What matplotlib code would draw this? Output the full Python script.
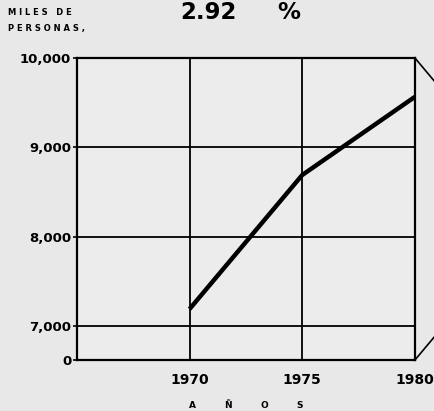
import matplotlib.pyplot as plt

# datos (miles de personas)
anios = [1970, 1975, 1980]
poblacion = [7190, 8690, 9565]
yticks = [7000, 8000, 9000, 10000]
ytick_labels = ['7,000', '8,000', '9,000', '10,000']
xticks = [1970, 1975, 1980]
cero = 6620  # eje cortado: el "0" se dibuja aqui
letras = ['A', 'Ñ', 'O', 'S']

fig = plt.figure(figsize=(4.34, 4.11), dpi=100, facecolor='#e8e8e8')
ax = fig.add_axes([0.177, 0.124, 0.779, 0.735])
ax.set_facecolor('#ececec')

ax.plot(anios, poblacion, color='black', lw=3.2, solid_capstyle='butt')

ax.set_xlim(1965, 1980)
ax.set_ylim(cero, 10000)
for y in yticks[:-1]:
    ax.axhline(y, color='black', lw=1.3)
for x in xticks[:-1]:
    ax.axvline(x, color='black', lw=1.3)
for s in ax.spines.values():
    s.set_linewidth(1.6)

ax.set_yticks([cero] + yticks)
ax.set_yticklabels(['0'] + ytick_labels, fontsize=9.5, fontweight='bold')
ax.set_xticks(xticks)
ax.set_xticklabels([str(x) for x in xticks], fontsize=10, fontweight='bold')
ax.tick_params(axis='y', length=3, width=1.2, pad=1)
ax.tick_params(axis='x', length=0, pad=9)

# lineas diagonales a la derecha
ax.plot([1, 1.06], [1, 0.92], transform=ax.transAxes, color='black', lw=1.2, clip_on=False)
ax.plot([1, 1.06], [0, 0.08], transform=ax.transAxes, color='black', lw=1.2, clip_on=False)

fig.text(0.415, 0.97, '2.92', ha=  'left', va='center', fontsize=16.5, fontweight='bold')
fig.text(0.638, 0.97, '%', ha='left', va='center', fontsize=16.5, fontweight='bold')
fig.text(0.018, 0.97, 'M I L E S   D E', ha='left', va='center', fontsize=6, fontweight='bold')
fig.text(0.018, 0.93, 'P E R S O N A S ,', ha='left', va='center', fontsize=6, fontweight='bold')
for i, l in enumerate(letras):
    fig.text((192 + 36 * i) / 434, 0.013, l, ha='center', va='center', fontsize=6.5, fontweight='bold')

fig.savefig('out.png', dpi=100, facecolor=fig.get_facecolor())
